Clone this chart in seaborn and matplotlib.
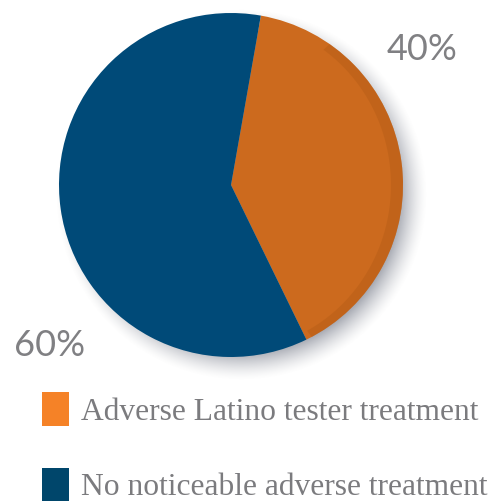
import numpy as np
import matplotlib
matplotlib.use("Agg")
import matplotlib.pyplot as plt
from matplotlib.patches import Patch
import seaborn as sns

# Outcome shares of the paired tests
categories = ["Adverse Latino tester treatment", "No noticeable adverse treatment"]
shares = [40, 60]
pct_labels = ["40%", "60%"]
slice_colors = ["#CC6A1E", "#004A78"]
legend_colors = ["#F58227", "#00466B"]

sns.set_theme(style="white")
plt.rcParams["font.family"] = ["Lato", "DejaVu Sans"]

W, H = 495, 503
fig = plt.figure(figsize=(W / 100, H / 100), dpi=100)
fig.patch.set_facecolor("white")

# Pie geometry in pixels
cx, cy, r = 231, 185, 172

# Soft drop shadow behind the pie
sh_ax = fig.add_axes([0, 0, 1, 1], zorder=0)
sh_ax.set_axis_off()
yy, xx = np.mgrid[0:H, 0:W]
d = np.hypot(xx - (cx + 10), yy - (cy + 9))
alpha = np.clip((r + 14 - d) / 28.0, 0, 1) ** 1.5 * 0.6
rgba = np.zeros((H, W, 4))
rgba[..., :3] = np.array([0.42, 0.44, 0.50])
rgba[..., 3] = alpha
sh_ax.imshow(rgba, extent=[0, W, H, 0], interpolation="bilinear")
sh_ax.set_xlim(0, W)
sh_ax.set_ylim(H, 0)

ax = fig.add_axes([(cx - r) / W, (H - cy - r) / H, 2 * r / W, 2 * r / H], zorder=1)
wedges, _ = ax.pie(shares, colors=slice_colors, startangle=80, counterclock=False,
                   radius=1.0, wedgeprops=dict(linewidth=0))
ax.set_xlim(-1, 1)
ax.set_ylim(-1, 1)
ax.set_aspect("equal")
ax.set_axis_off()

# Slightly darker rim on the right edge of the orange slice for a raised look
theta = np.linspace(np.deg2rad(-62), np.deg2rad(55), 200)
outer = np.c_[np.cos(theta), np.sin(theta)]
inner = np.c_[0.92 * np.cos(theta) + 0.01, 0.96 * np.sin(theta)]
ax.fill(np.r_[outer[:, 0], inner[::-1, 0]], np.r_[outer[:, 1], inner[::-1, 1]],
        color="#B45C16", lw=0, alpha=0.45)

# Percentage labels
fig.text(422 / W, 1 - 50 / H, pct_labels[0], ha="center", va="center",
         fontsize=26, color="#808083", fontweight="normal")
fig.text(50 / W, 1 - 345 / H, pct_labels[1], ha="center", va="center",
         fontsize=26, color="#808083", fontweight="normal")

handles = [Patch(facecolor=c, edgecolor="none") for c in legend_colors]
leg = fig.legend(handles, categories, loc="upper left",
                 bbox_to_anchor=(42 / W, 1 - 392 / H), frameon=False,
                 prop={"family": "Liberation Serif", "size": 22.7},
                 handlelength=0.87, handleheight=1.28, handletextpad=0.37,
                 labelspacing=1.3, borderpad=0, borderaxespad=0)
for t in leg.get_texts():
    t.set_color("#7B7B7E")

fig.savefig("out.png", dpi=100, facecolor="white")
